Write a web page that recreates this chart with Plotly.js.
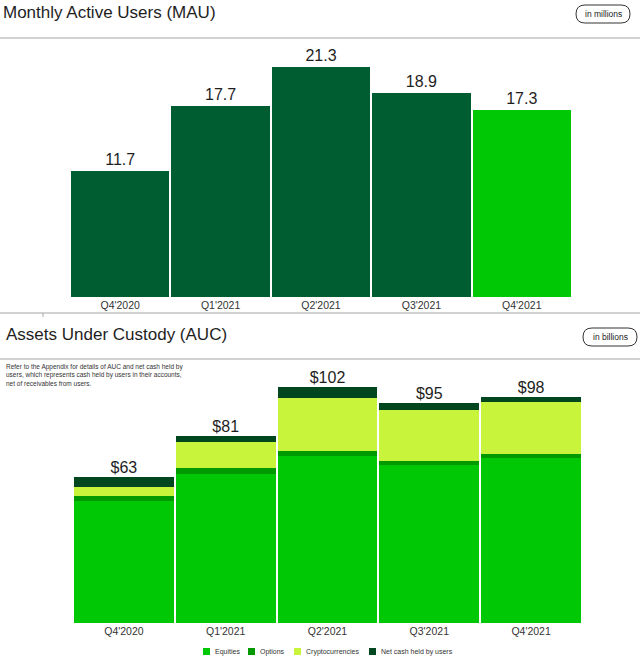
<!DOCTYPE html>
<html>
<head>
<meta charset="utf-8">
<script src="https://cdn.plot.ly/plotly-3.0.1.min.js"></script>
<style>
  html, body { margin: 0; padding: 0; background: #ffffff; }
  #chart { width: 640px; height: 658px; }
</style>
</head>
<body>
<div id="chart"></div>
<script>
// ---------- data ----------
const quarters = ["Q4'2020", "Q1'2021", "Q2'2021", "Q3'2021", "Q4'2021"];
const mau = [11.7, 17.7, 21.3, 18.9, 17.3];            // millions
const equities = [52.5, 64.3, 72.0, 68.3, 71.3];        // $ billions
const options = [2.2, 2.6, 2.2, 1.5, 1.7];
const crypto = [3.9, 11.3, 23.0, 22.2, 22.6];
const netCash = [4.3, 2.6, 4.8, 3.0, 2.2];
const aucTotals = [63, 81, 102, 95, 98];
const seriesNames = ["Equities", "Options", "Cryptocurrencies", "Net cash held by users"];

// ---------- styles ----------
const W = 640, H = 658;
const px = x => x / W;
const py = y => 1 - y / H;
const darkGreen = "#005c31";
const brightGreen = "#00c805";
const seriesColors = ["#00c805", "#009a00", "#c8f53c", "#00461f"];
const textDark = "#1e1e1e";
const baseFont = "Liberation Sans, Arial, sans-serif";

const mauColors = quarters.map((q, i) => i === quarters.length - 1 ? brightGreen : darkGreen);

const traces = [];
traces.push({
  type: "bar", x: quarters, y: mau, xaxis: "x", yaxis: "y",
  marker: { color: mauColors },
  text: mau.map(v => v.toFixed(1)), textposition: "outside",
  textfont: { size: 16, color: textDark, family: baseFont },
  constraintext: "none", cliponaxis: false,
  showlegend: false, hoverinfo: "x+y"
});
const aucSeries = [equities, options, crypto, netCash];
aucSeries.forEach((vals, i) => {
  traces.push({
    type: "bar", x: quarters, y: vals, xaxis: "x2", yaxis: "y2",
    name: seriesNames[i], marker: { color: seriesColors[i] },
    showlegend: false
  });
});
const stackTops = quarters.map((q, i) => aucSeries.reduce((s, arr) => s + arr[i], 0));
traces.push({
  type: "scatter", mode: "text", x: quarters, y: stackTops, xaxis: "x2", yaxis: "y2",
  text: aucTotals.map(v => "$" + v), textposition: "top center",
  textfont: { size: 16, color: textDark, family: baseFont },
  cliponaxis: false, showlegend: false, hoverinfo: "skip"
});

// pill-shaped badge path
function pill(x0, y0, x1, y1) {
  const r = (y1 - y0) / 2;
  const ym = (y0 + y1) / 2;
  const P = (x, y) => px(x) + "," + py(y);
  return "M" + P(x0 + r, y0) + " L" + P(x1 - r, y0) +
    " Q" + P(x1, y0) + " " + P(x1, ym) +
    " Q" + P(x1, y1) + " " + P(x1 - r, y1) +
    " L" + P(x0 + r, y1) +
    " Q" + P(x0, y1) + " " + P(x0, ym) +
    " Q" + P(x0, y0) + " " + P(x0 + r, y0) + " Z";
}

const shapes = [
  { type: "line", xref: "paper", yref: "paper", x0: 0, x1: 1, y0: py(38), y1: py(38), line: { color: "#a6a6a6", width: 1.2 } },
  { type: "line", xref: "paper", yref: "paper", x0: 0, x1: 1, y0: py(313), y1: py(313), line: { color: "#a6a6a6", width: 1.2 } },
  { type: "line", xref: "paper", yref: "paper", x0: px(43), x1: px(43), y0: py(313), y1: py(317), line: { color: "#a6a6a6", width: 1 } },
  { type: "line", xref: "paper", yref: "paper", x0: 0, x1: 1, y0: py(359), y1: py(359), line: { color: "#a6a6a6", width: 1.2 } },
  { type: "path", xref: "paper", yref: "paper", path: pill(576, 5, 630, 23), line: { color: "#333333", width: 1 } },
  { type: "path", xref: "paper", yref: "paper", path: pill(583, 328, 637, 346), line: { color: "#333333", width: 1 } }
];

const annotations = [
  { text: "Monthly Active Users (MAU)", x: px(1), y: py(13), xref: "paper", yref: "paper", xanchor: "left", yanchor: "middle", showarrow: false, font: { size: 17, color: textDark, family: baseFont } },
  { text: "Assets Under Custody (AUC)", x: px(4), y: py(334), xref: "paper", yref: "paper", xanchor: "left", yanchor: "middle", showarrow: false, font: { size: 17, color: textDark, family: baseFont } },
  { text: "in millions", x: px(603), y: py(14), xref: "paper", yref: "paper", xanchor: "center", yanchor: "middle", showarrow: false, font: { size: 8.5, color: "#222222", family: baseFont } },
  { text: "in billions", x: px(610), y: py(337), xref: "paper", yref: "paper", xanchor: "center", yanchor: "middle", showarrow: false, font: { size: 8.5, color: "#222222", family: baseFont } }
];
const noteLines = [
  "Refer to the Appendix for details of AUC and net cash held by",
  "users, which represents cash held by users in their accounts,",
  "net of receivables from users."
];
noteLines.forEach((t, i) => {
  annotations.push({ text: t, x: px(4), y: py(367 + 8 * i), xref: "paper", yref: "paper", xanchor: "left", yanchor: "middle", showarrow: false, font: { size: 6.5, color: "#333333", family: baseFont } });
});
// legend (manual, compact)
const legendX = [203, 248, 294, 369];
seriesNames.forEach((n, i) => {
  shapes.push({ type: "rect", xref: "paper", yref: "paper", x0: px(legendX[i]), x1: px(legendX[i] + 7), y0: py(648), y1: py(655), fillcolor: seriesColors[i], line: { width: 0 } });
  annotations.push({ text: n, x: px(legendX[i] + 10), y: py(651.5), xref: "paper", yref: "paper", xanchor: "left", yanchor: "middle", showarrow: false, font: { size: 7, color: "#333333", family: baseFont } });
});

const layout = {
  width: W, height: H,
  margin: { l: 0, r: 0, t: 0, b: 0 },
  paper_bgcolor: "#ffffff", plot_bgcolor: "#ffffff",
  font: { family: baseFont, color: textDark },
  barmode: "stack", bargap: 0.02,
  showlegend: false,
  xaxis: { domain: [px(70), px(572)], anchor: "y", showgrid: false, zeroline: false, showline: false, ticks: "", tickfont: { size: 10.5, color: "#333333" }, fixedrange: true },
  yaxis: { domain: [py(297), py(40)], anchor: "x", range: [0, 23.8], visible: false, fixedrange: true },
  xaxis2: { domain: [px(73), px(582)], anchor: "y2", showgrid: false, zeroline: false, showline: false, ticks: "", tickfont: { size: 10.5, color: "#333333" }, fixedrange: true },
  yaxis2: { domain: [py(623), py(370)], anchor: "x2", range: [0, 109.3], visible: false, fixedrange: true },
  shapes: shapes,
  annotations: annotations
};

Plotly.newPlot("chart", traces, layout, { displayModeBar: false, staticPlot: true });
</script>
</body>
</html>
